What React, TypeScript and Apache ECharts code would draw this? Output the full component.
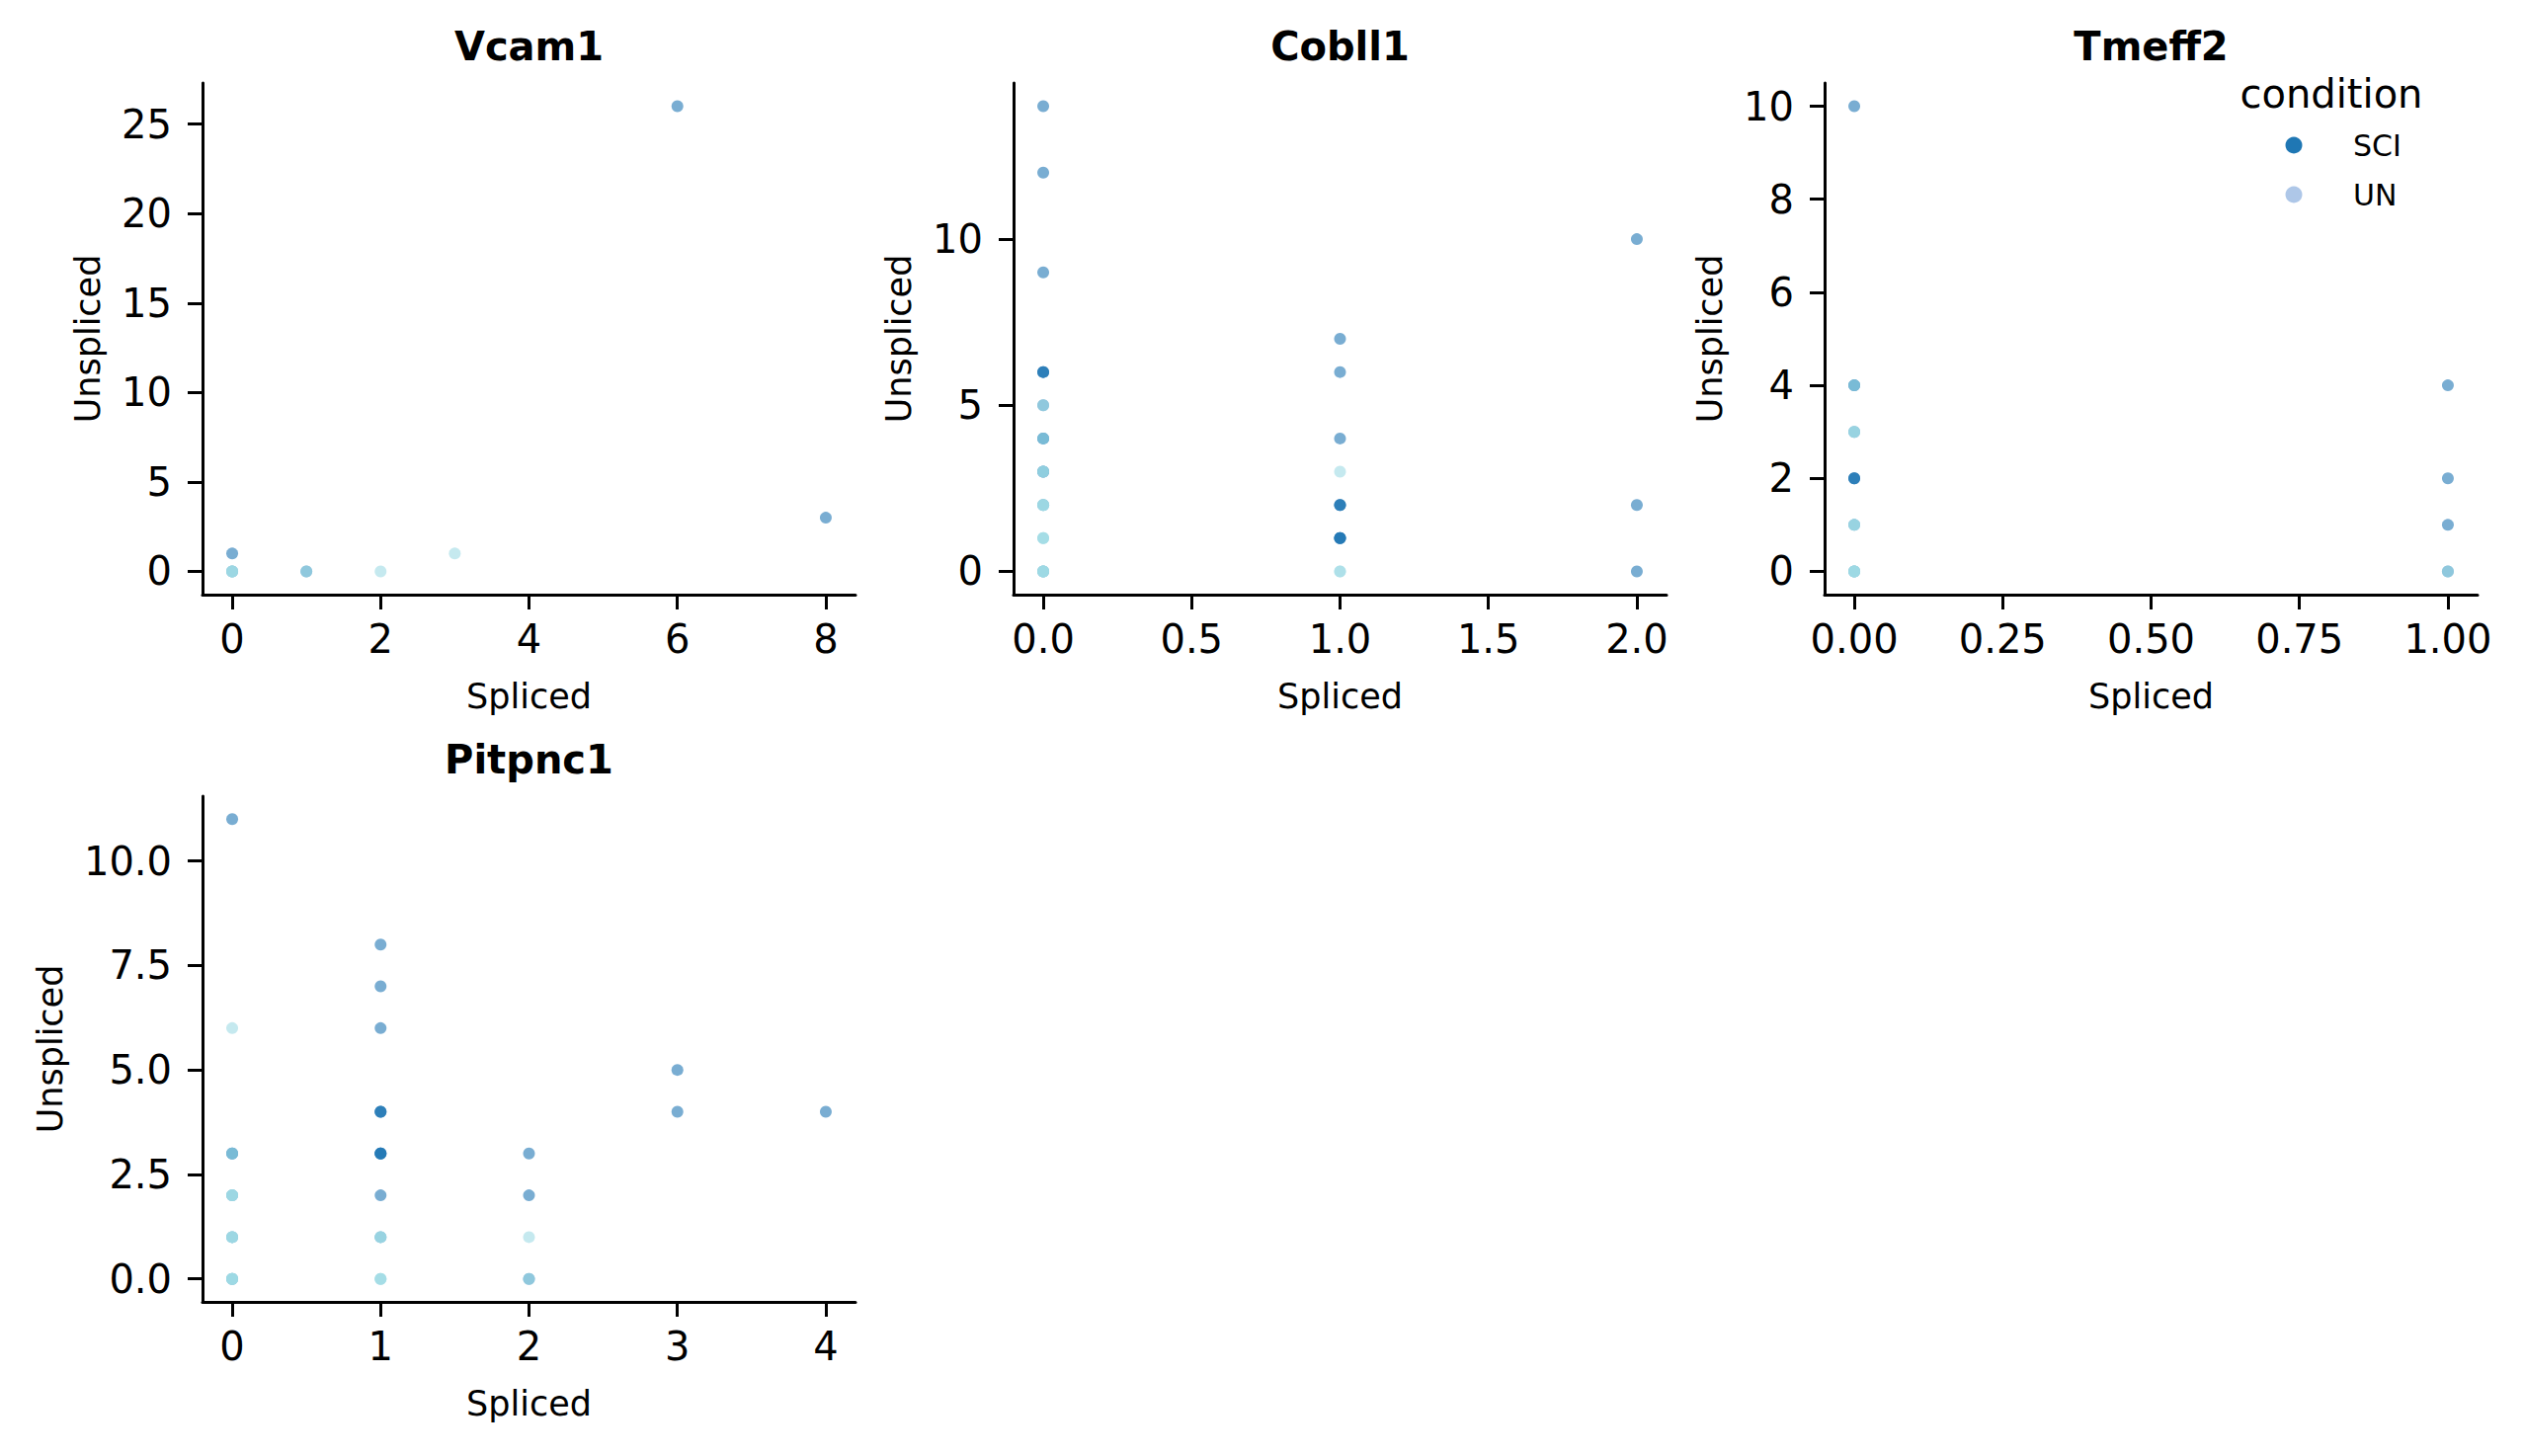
import React, { useEffect, useRef } from "react";
import * as echarts from "echarts";

// ---------- data ----------
const genes = ["Vcam1", "Cobll1", "Tmeff2", "Pitpnc1"];

const vcam1SCI: [number, number][] = [[0, 1], [0, 0], [1, 0], [6, 26], [8, 3]];
const vcam1UN: [number, number][] = [[0, 0], [0, 0], [0, 0], [1, 0], [2, 0], [3, 1]];

const cobll1SCI: [number, number][] = [
  [0, 14], [0, 12], [0, 9], [0, 6], [0, 6], [0, 6], [0, 5], [0, 4], [0, 4], [0, 3], [0, 3], [0, 2], [0, 0],
  [1, 7], [1, 6], [1, 4], [1, 2], [1, 2], [1, 2], [1, 1], [1, 1], [1, 1], [1, 1],
  [2, 10], [2, 2], [2, 0],
];
const cobll1UN: [number, number][] = [
  [0, 5], [0, 4], [0, 3], [0, 3], [0, 2], [0, 2], [0, 2], [0, 1], [0, 1], [0, 1], [0, 0], [0, 0], [0, 0], [0, 0],
  [1, 3], [1, 0], [1, 0],
];

const tmeff2SCI: [number, number][] = [
  [0, 10], [0, 4], [0, 4], [0, 3], [0, 2], [0, 2], [0, 2], [0, 1], [0, 0],
  [1, 4], [1, 2], [1, 1], [1, 0],
];
const tmeff2UN: [number, number][] = [
  [0, 4], [0, 3], [0, 3], [0, 1], [0, 1], [0, 0], [0, 0], [0, 0], [0, 0], [1, 0],
];

const pitpnc1SCI: [number, number][] = [
  [0, 11], [0, 3], [0, 3], [0, 2], [0, 1], [0, 0],
  [1, 8], [1, 7], [1, 6], [1, 4], [1, 4], [1, 4], [1, 3], [1, 3], [1, 3], [1, 3], [1, 2], [1, 1],
  [2, 3], [2, 2], [2, 0], [3, 5], [3, 4], [4, 4],
];
const pitpnc1UN: [number, number][] = [
  [0, 6], [0, 3], [0, 2], [0, 2], [0, 2], [0, 1], [0, 1], [0, 1], [0, 0], [0, 0], [0, 0], [0, 0],
  [1, 1], [1, 1], [1, 0], [1, 0], [1, 0], [2, 1], [2, 0],
];

const sciData = [vcam1SCI, cobll1SCI, tmeff2SCI, pitpnc1SCI];
const unData = [vcam1UN, cobll1UN, tmeff2UN, pitpnc1UN];

// tick values and axis ranges
const xTicks = [[0, 2, 4, 6, 8], [0, 0.5, 1, 1.5, 2], [0, 0.25, 0.5, 0.75, 1], [0, 1, 2, 3, 4]];
const yTicks = [[0, 5, 10, 15, 20, 25], [0, 5, 10], [0, 2, 4, 6, 8, 10], [0, 2.5, 5, 7.5, 10]];
const xRange = [[-0.4, 8.4], [-0.1, 2.1], [-0.05, 1.05], [-0.2, 4.2]];
const yRange = [[-1.3, 27.3], [-0.7, 14.7], [-0.5, 10.5], [-0.55, 11.55]];
const xDecimals = [0, 1, 2, 0];
const yDecimals = [0, 0, 0, 1];

const conditions = ["SCI", "UN"];
const legendColors = ["#1f77b4", "#aec7e8"];
const pointColors = ["#1f77b4", "#9edae5"];

// ---------- layout ----------
const FONT = "DejaVu Sans";
const panels = [
  { left: 205, top: 84, width: 661, height: 518, yNameGap: 99 },
  { left: 1026, top: 84, width: 661, height: 518, yNameGap: 99 },
  { left: 1847, top: 84, width: 661, height: 518, yNameGap: 99 },
  { left: 205, top: 806, width: 661, height: 512, yNameGap: 137 },
];

export default function App() {
  const ref = useRef<HTMLDivElement>(null);

  useEffect(() => {
    document.body.style.margin = "0";
    const chart = echarts.init(ref.current!, null, { renderer: "svg" });

    const grid = panels.map((p) => ({
      left: p.left,
      top: p.top,
      width: p.width,
      height: p.height,
      containLabel: false,
    }));

    const axisCommon = {
      axisLine: { show: true, onZero: false, lineStyle: { color: "#000", width: 3 } },
      splitLine: { show: false },
      nameLocation: "middle" as const,
      nameTextStyle: { fontSize: 35, color: "#000", fontFamily: FONT },
    };

    const xAxis = panels.map((p, i) => ({
      ...axisCommon,
      type: "value",
      gridIndex: i,
      min: xRange[i][0],
      max: xRange[i][1],
      name: "Spliced",
      nameGap: 85,
      axisTick: { show: true, length: 15, lineStyle: { color: "#000", width: 3 }, customValues: xTicks[i] },
      axisLabel: {
        customValues: xTicks[i],
        formatter: (v: number) => v.toFixed(xDecimals[i]),
        fontSize: 40,
        color: "#000",
        fontFamily: FONT,
        margin: 25,
      },
    }));

    const yAxis = panels.map((p, i) => ({
      ...axisCommon,
      type: "value",
      gridIndex: i,
      min: yRange[i][0],
      max: yRange[i][1],
      name: "Unspliced",
      nameGap: p.yNameGap,
      axisTick: { show: true, length: 15, lineStyle: { color: "#000", width: 3 }, customValues: yTicks[i] },
      axisLabel: {
        customValues: yTicks[i],
        formatter: (v: number) => v.toFixed(yDecimals[i]),
        fontSize: 40,
        color: "#000",
        fontFamily: FONT,
        margin: 31,
      },
    }));

    const series: any[] = [];
    panels.forEach((p, i) => {
      [sciData[i], unData[i]].forEach((d, k) => {
        series.push({
          type: "scatter",
          name: conditions[k],
          xAxisIndex: i,
          yAxisIndex: i,
          data: d,
          symbol: "circle",
          symbolSize: 12,
          itemStyle: { color: pointColors[k], opacity: 0.6 },
          emphasis: { disabled: true },
          silent: true,
        });
      });
    });

    const titles = panels.map((p, i) => ({
      type: "text",
      x: p.left + p.width / 2,
      y: p.top - 37,
      style: {
        text: genes[i],
        fontSize: 40,
        fontWeight: "bold",
        fontFamily: FONT,
        fill: "#000",
        textAlign: "center",
        textVerticalAlign: "middle",
        align: "center",
        verticalAlign: "middle",
      },
    }));

    const legendItems: any[] = [
      {
        type: "text",
        x: 2360,
        y: 95,
        style: {
          text: "condition",
          fontSize: 40,
          fontFamily: FONT,
          fill: "#000",
          textAlign: "center",
          textVerticalAlign: "middle",
          align: "center",
          verticalAlign: "middle",
        },
      },
    ];
    conditions.forEach((c, k) => {
      const cy = 147 + k * 50;
      legendItems.push({
        type: "circle",
        shape: { cx: 2322, cy, r: 8.5 },
        style: { fill: legendColors[k] },
      });
      legendItems.push({
        type: "text",
        x: 2382,
        y: cy,
        style: {
          text: c,
          fontSize: 30,
          fontFamily: FONT,
          fill: "#000",
          textAlign: "left",
          textVerticalAlign: "middle",
          align: "left",
          verticalAlign: "middle",
        },
      });
    });

    chart.setOption({
      animation: false,
      backgroundColor: "#ffffff",
      textStyle: { fontFamily: FONT },
      grid,
      xAxis,
      yAxis,
      series,
      graphic: [...titles, ...legendItems],
    });

    return () => chart.dispose();
  }, []);

  return <div ref={ref} style={{ width: 2555, height: 1474 }} />;
}
